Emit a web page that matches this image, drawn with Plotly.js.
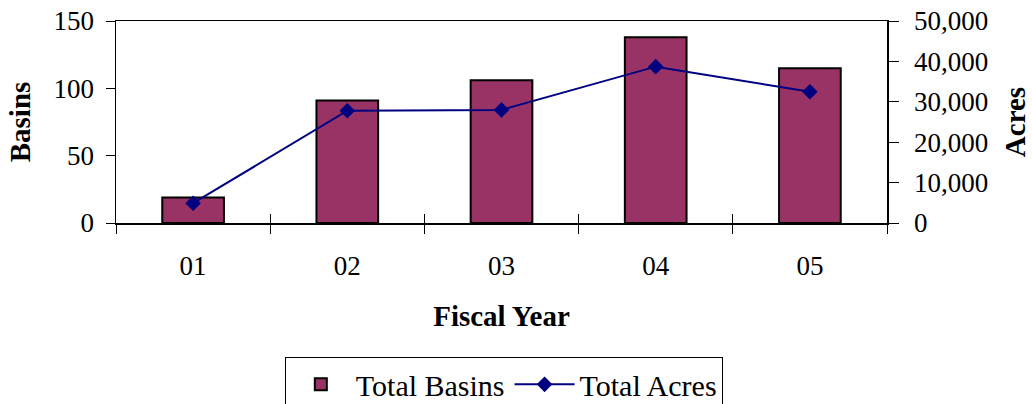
<!DOCTYPE html>
<html><head><meta charset="utf-8">
<script src="https://cdn.plot.ly/plotly-3.0.1.min.js"></script>
<style>html,body{margin:0;padding:0;background:#fff}#chart{width:1032px;height:404px}</style>
</head><body><div id="chart"></div>
<script>
const years = ["01", "02", "03", "04", "05"];
const totalBasins = [19, 91, 106, 138, 115];
const totalAcres = [4900, 27800, 28000, 38700, 32500];
const basinTicks = [0, 50, 100, 150];
const acreTicks = [0, 10000, 20000, 30000, 40000, 50000];

const F = "Liberation Serif, Times New Roman, serif";
const traces = [
  {type: "bar", name: "Total Basins", x: years, y: totalBasins, xaxis: "x", yaxis: "y",
   width: 0.4, marker: {color: "#993366", line: {color: "#000", width: 2}}},
  {type: "scatter", mode: "lines+markers", name: "Total Acres", x: years, y: totalAcres,
   xaxis: "x2", yaxis: "y2",
   line: {color: "#000080", width: 2}, marker: {symbol: "diamond", size: 12, color: "#000080"}}
];
const layout = {
  width: 1032, height: 404,
  margin: {l: 116, r: 145, t: 21, b: 181, autoexpand: false},
  paper_bgcolor: "#fff", plot_bgcolor: "#fff",
  font: {family: F, size: 27, color: "#000"},
  showlegend: true,
  legend: {orientation: "h", x: 0.503, xanchor: "center", y: -0.665, yanchor: "top",
           bordercolor: "#000", borderwidth: 1, font: {size: 30}, traceorder: "normal",
           itemwidth: 60},
  xaxis: {type: "category", categoryorder: "array", categoryarray: years,
          showline: true, linecolor: "#000", linewidth: 1.5, mirror: true,
          ticks: "outside", tickson: "boundaries", ticklen: 9, tickcolor: "#000", tickwidth: 1,
          ticklabelstandoff: 18, showgrid: false, zeroline: false,
          title: {text: "<b>Fiscal Year</b>", font: {size: 29}, standoff: 26}},
  xaxis2: {type: "category", categoryorder: "array", categoryarray: years,
           overlaying: "x", matches: "x", anchor: "y2", side: "bottom",
           ticks: "inside", tickson: "boundaries", ticklen: 9, tickcolor: "#000", tickwidth: 1,
           showticklabels: false, showline: false, showgrid: false, zeroline: false},
  yaxis: {range: [0, 150], tickvals: basinTicks, ticktext: basinTicks.map(String),
          showline: true, linecolor: "#000", linewidth: 1.5,
          ticks: "outside", ticklen: 9, tickcolor: "#000", tickwidth: 1,
          ticklabelstandoff: 6, showgrid: false, zeroline: false,
          title: {text: "<b>Basins</b>", font: {size: 29}, standoff: 14}},
  yaxis2: {range: [0, 50000], overlaying: "y", side: "right", anchor: "x",
           tickvals: acreTicks, ticktext: acreTicks.map(v => v.toLocaleString("en-US")),
           showline: true, linecolor: "#000", linewidth: 1.5,
           ticks: "outside", ticklen: 10, tickcolor: "#000", tickwidth: 1,
           ticklabelstandoff: 10, showgrid: false, zeroline: false,
           title: {text: "<b>Acres</b>", font: {size: 29}, standoff: 17}}
};
Plotly.newPlot("chart", traces, layout, {displayModeBar: false, staticPlot: true});
</script></body></html>
